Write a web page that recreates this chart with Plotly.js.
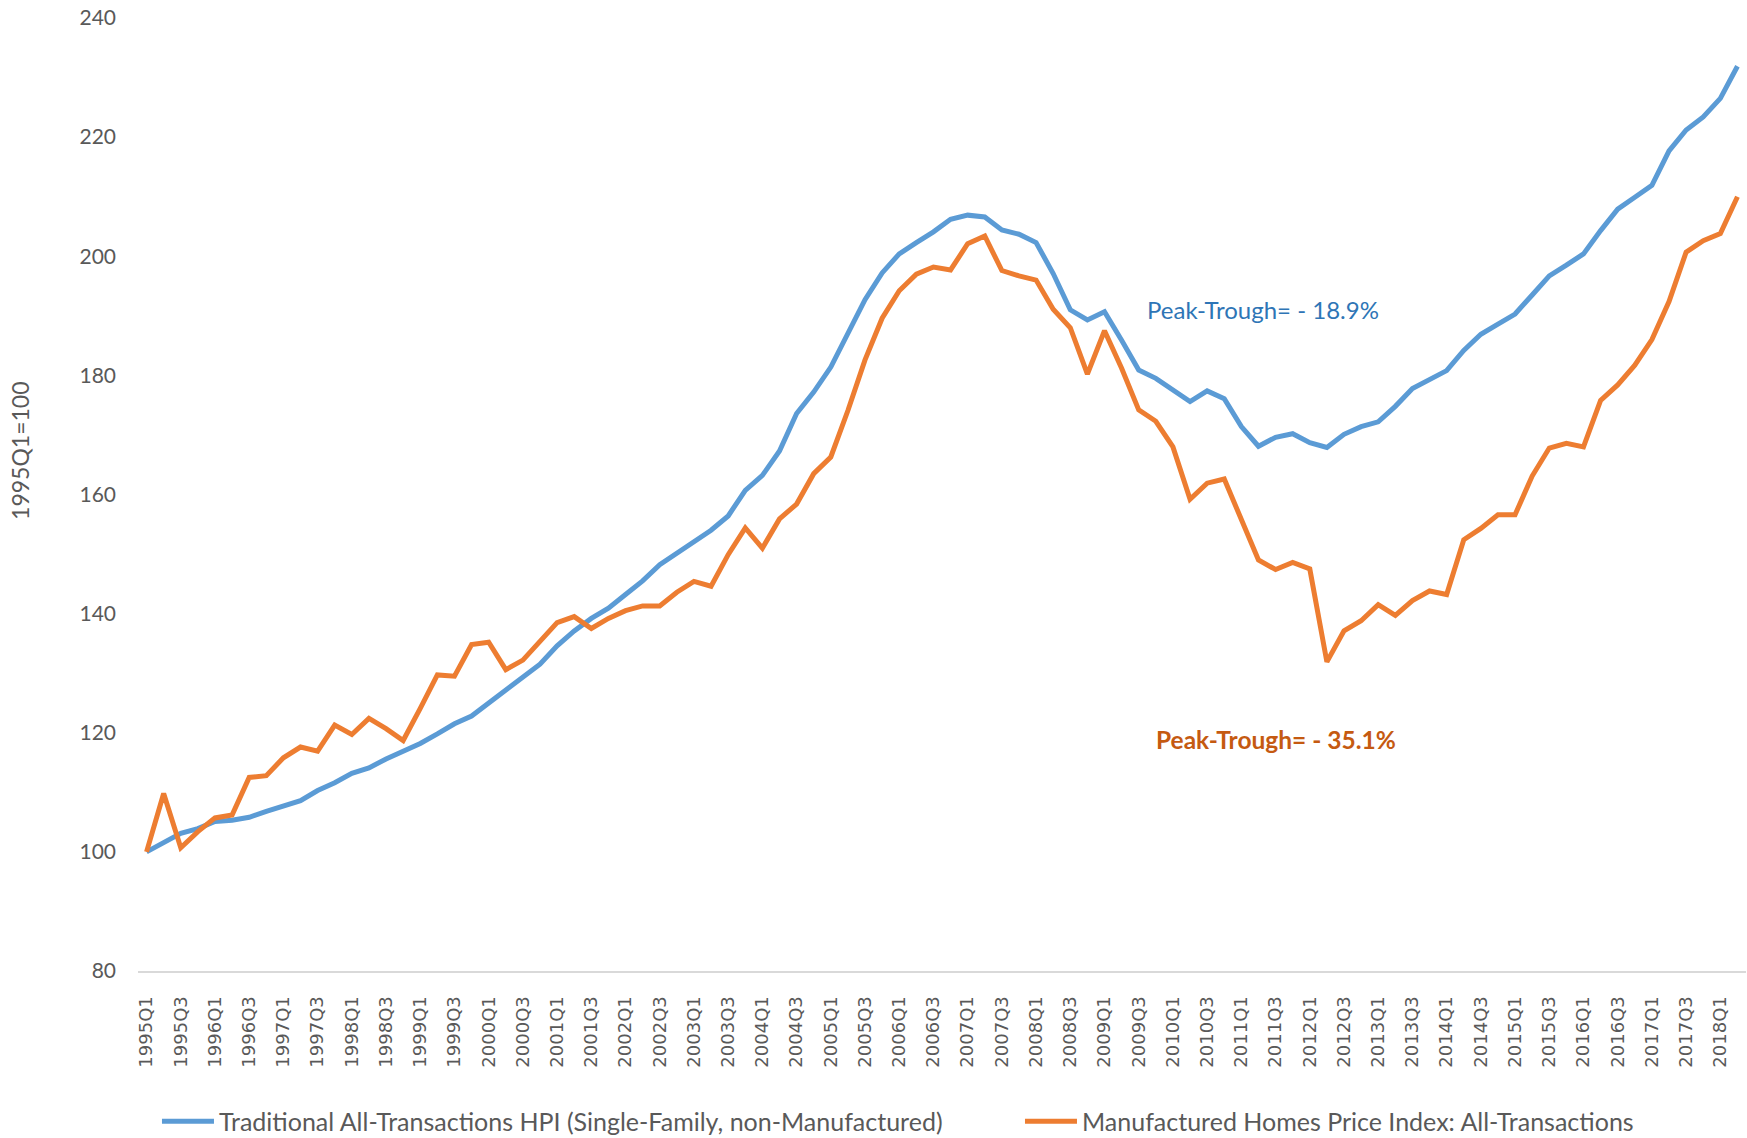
<!DOCTYPE html>
<html>
<head>
<meta charset="utf-8">
<script src="https://cdn.plot.ly/plotly-3.0.1.min.js"></script>
<style>
html,body{margin:0;padding:0;background:#fff;}
#chart{width:1747px;height:1138px;}
</style>
</head>
<body>
<div id="chart"></div>
<script>
var quarters = [
"1995Q1","1995Q2","1995Q3","1995Q4","1996Q1","1996Q2","1996Q3","1996Q4",
"1997Q1","1997Q2","1997Q3","1997Q4","1998Q1","1998Q2","1998Q3","1998Q4",
"1999Q1","1999Q2","1999Q3","1999Q4","2000Q1","2000Q2","2000Q3","2000Q4",
"2001Q1","2001Q2","2001Q3","2001Q4","2002Q1","2002Q2","2002Q3","2002Q4",
"2003Q1","2003Q2","2003Q3","2003Q4","2004Q1","2004Q2","2004Q3","2004Q4",
"2005Q1","2005Q2","2005Q3","2005Q4","2006Q1","2006Q2","2006Q3","2006Q4",
"2007Q1","2007Q2","2007Q3","2007Q4","2008Q1","2008Q2","2008Q3","2008Q4",
"2009Q1","2009Q2","2009Q3","2009Q4","2010Q1","2010Q2","2010Q3","2010Q4",
"2011Q1","2011Q2","2011Q3","2011Q4","2012Q1","2012Q2","2012Q3","2012Q4",
"2013Q1","2013Q2","2013Q3","2013Q4","2014Q1","2014Q2","2014Q3","2014Q4",
"2015Q1","2015Q2","2015Q3","2015Q4","2016Q1","2016Q2","2016Q3","2016Q4",
"2017Q1","2017Q2","2017Q3","2017Q4","2018Q1","2018Q2"
];

var traditionalHPI = [
100.0,101.6,103.1,103.9,105.1,105.3,105.8,106.8,
107.7,108.6,110.3,111.6,113.2,114.1,115.6,116.9,
118.2,119.8,121.5,122.8,125.0,127.0,129.4,131.5,
134.6,137.1,139.2,140.9,143.2,145.5,148.2,150.2,
152.0,154.0,156.4,160.7,163.2,167.3,173.6,177.2,
181.4,187.0,192.7,197.2,200.4,202.3,204.1,206.2,
206.9,206.6,204.4,203.7,202.3,197.1,191.0,189.3,
190.7,185.9,180.9,179.5,177.5,175.6,177.4,176.1,
171.4,168.1,169.6,170.2,168.7,167.9,170.1,171.4,
172.2,174.8,177.8,179.2,180.8,184.2,186.9,188.6,
190.3,193.5,196.7,198.5,200.4,204.3,207.9,209.9,
211.9,217.7,221.2,223.4,226.5,231.9
];

var manufacturedHPI = [
100.0,109.8,100.7,103.4,105.7,106.2,112.5,112.8,
115.8,117.6,116.9,121.3,119.7,122.4,120.7,118.7,
124.1,129.7,129.5,134.8,135.2,130.6,132.2,135.3,
138.5,139.5,137.5,139.2,140.5,141.3,141.3,143.6,
145.4,144.6,149.9,154.4,151.0,155.9,158.4,163.5,
166.3,174.1,182.6,189.6,194.2,197.0,198.2,197.7,
202.1,203.4,197.6,196.7,196.0,191.1,188.0,180.2,
187.5,181.2,174.2,172.3,168.0,159.2,161.9,162.6,
155.9,149.0,147.4,148.6,147.5,131.9,137.1,138.8,
141.5,139.7,142.2,143.8,143.2,152.4,154.3,156.6,
156.6,163.1,167.8,168.6,168.0,175.8,178.4,181.7,
186.0,192.4,200.7,202.6,203.8,210.0
];

var tickLabels = quarters.filter(function(q){ return /Q[13]$/.test(q); });

var seriesNames = [
"Traditional All-Transactions HPI (Single-Family, non-Manufactured)",
"Manufactured Homes Price Index: All-Transactions"
];
var yTitle = "1995Q1=100";
var noteBlue = "Peak-Trough= - 18.9%";
var noteOrange = "<b>Peak-Trough= - 35.1%</b>";

var traces = [
  {x: quarters, y: traditionalHPI, type: "scatter", mode: "lines", name: seriesNames[0],
   legend: "legend", line: {color: "#5B9BD5", width: 5}},
  {x: quarters, y: manufacturedHPI, type: "scatter", mode: "lines", name: seriesNames[1],
   legend: "legend2", line: {color: "#ED7D31", width: 5}}
];

function legendAt(xp) {
  return {
    orientation: "h", x: xp, xanchor: "left", y: -0.158, yanchor: "middle",
    font: {family: "Lato, sans-serif", size: 25, color: "#595959"},
    itemwidth: 52, bgcolor: "rgba(0,0,0,0)", borderwidth: 0
  };
}

var layout = {
  width: 1747, height: 1138,
  margin: {l: 138, r: 1, t: 18, b: 167, pad: 0, autoexpand: false},
  paper_bgcolor: "#ffffff", plot_bgcolor: "#ffffff",
  font: {family: "Lato, 'Open Sans', sans-serif", color: "#595959", size: 21},
  showlegend: true,
  legend: legendAt(0.0118),
  legend2: legendAt(0.5485),
  xaxis: {
    type: "category", range: [-0.5, 93.5],
    tickmode: "array", tickvals: tickLabels, ticktext: tickLabels,
    tickangle: -90, ticks: "", ticklabelstandoff: 16,
    tickfont: {family: "'DejaVu Sans', sans-serif", size: 18, color: "#595959"},
    showgrid: false, zeroline: false,
    showline: true, linecolor: "#D9D9D9", linewidth: 2,
    fixedrange: true
  },
  yaxis: {
    range: [80, 240], dtick: 20, tick0: 80,
    ticks: "", ticklabelstandoff: 21,
    tickfont: {family: "Lato, sans-serif", size: 21, color: "#595959"},
    showgrid: false, zeroline: false, showline: false,
    fixedrange: true
  },
  annotations: [
    {text: yTitle, xref: "paper", yref: "paper", x: -0.0734, y: 0.5457,
     xanchor: "center", yanchor: "middle", textangle: -90, showarrow: false,
     font: {family: "Lato, sans-serif", size: 23, color: "#595959"}},
    {text: noteBlue, xref: "paper", yref: "paper", x: 0.6261, y: 0.6936,
     xanchor: "left", yanchor: "middle", showarrow: false,
     font: {family: "Lato, sans-serif", size: 24, color: "#2E75B6"}},
    {text: noteOrange, xref: "paper", yref: "paper", x: 0.6317, y: 0.2424,
     xanchor: "left", yanchor: "middle", showarrow: false,
     font: {family: "Lato, sans-serif", size: 24.5, color: "#C55A11"}}
  ]
};

Plotly.newPlot("chart", traces, layout, {displayModeBar: false, staticPlot: true});
</script>
</body>
</html>
